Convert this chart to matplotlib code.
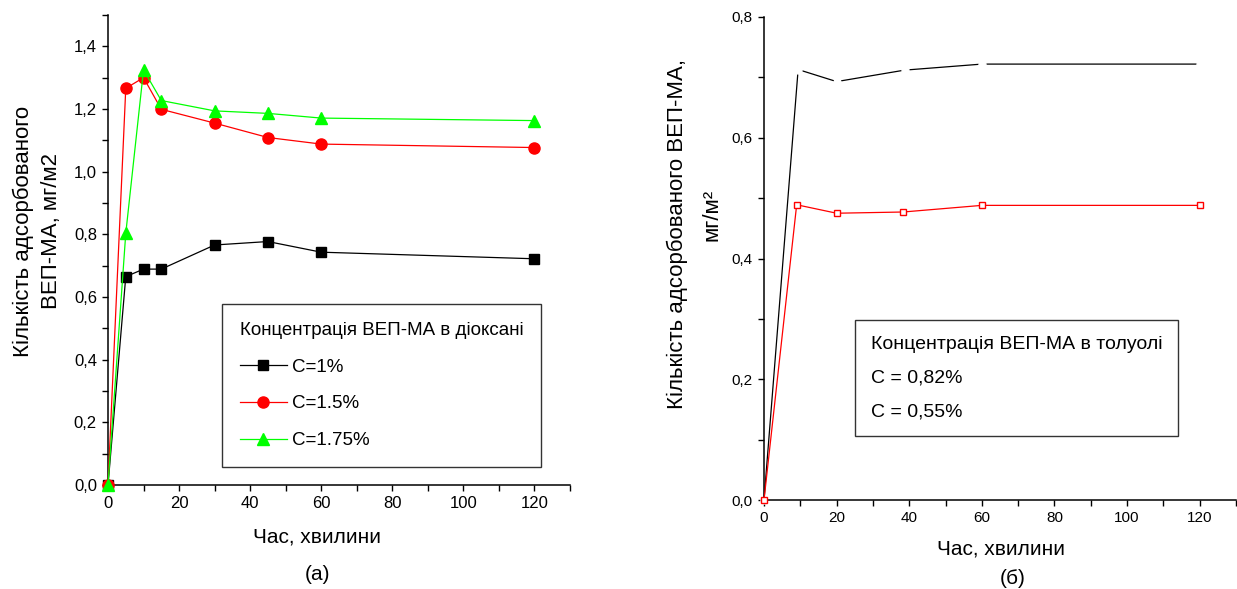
import matplotlib
matplotlib.use("Agg")
import matplotlib.pyplot as plt
from matplotlib.lines import Line2D
from matplotlib.ticker import MultipleLocator, FuncFormatter

plt.rcParams['font.family'] = ['Liberation Sans', 'DejaVu Sans']

# (а) dioxane
t_a = [0, 5, 10, 15, 30, 45, 60, 120]
c1 = [0, 0.665, 0.689, 0.689, 0.766, 0.777, 0.743, 0.722]
c15 = [0, 1.266, 1.300, 1.199, 1.155, 1.109, 1.088, 1.077]
c175 = [0, 0.803, 1.325, 1.227, 1.194, 1.186, 1.171, 1.163]
labels_a = ['C=1%', 'C=1.5%', 'C=1.75%']

# (б) toluene
t_b082 = [0, 9.4, 20, 38.7, 60, 120]
c082 = [0, 0.713, 0.693, 0.712, 0.722, 0.722]
t_b055 = [0, 9, 20, 38.3, 60, 120]
c055 = [0, 0.489, 0.475, 0.477, 0.488, 0.488]
labels_b = ['C = 0,82%', 'C = 0,55%']

comma = FuncFormatter(lambda v, p: ('%.1f' % v).replace('.', ','))

fig = plt.figure(figsize=(12.37, 5.89), dpi=100)
W, H = 1237, 589
ax1 = fig.add_axes([108 / W, 1 - 485 / H, (570 - 108) / W, (485 - 15) / H])
ax2 = fig.add_axes([764 / W, 1 - 500 / H, (1236 - 764) / W, (500 - 17) / H])


def style(ax, fs):
    for s in ['top', 'right']:
        ax.spines[s].set_visible(False)
    for s in ['left', 'bottom']:
        ax.spines[s].set_linewidth(1.1)
    ax.xaxis.set_major_locator(MultipleLocator(20))
    ax.xaxis.set_minor_locator(MultipleLocator(10))
    ax.yaxis.set_minor_locator(MultipleLocator(0.1))
    ax.yaxis.set_major_formatter(comma)
    ax.tick_params(which='major', direction='out', length=4.5, width=1.0, labelsize=fs)
    ax.tick_params(which='minor', direction='out', length=4, width=1.0)
    ax.set_xlim(0, 130)


# ---- (а)
ax1.plot(t_a, c1, color='black', lw=0.9, marker='s', ms=7, label=labels_a[0], clip_on=False, zorder=3)
ax1.plot(t_a, c15, color='red', lw=0.9, marker='o', ms=8, label=labels_a[1], clip_on=False, zorder=3)
ax1.plot(t_a, c175, color='#00ff00', lw=0.9, marker='^', ms=8.5, label=labels_a[2], clip_on=False, zorder=3)
style(ax1, 12)
ax1.set_ylim(0, 1.5)
ax1.set_yticks([0, 0.2, 0.4, 0.6, 0.8, 1.0, 1.2, 1.4])
leg = ax1.legend(title='Концентрація ВЕП-МА в діоксані', loc='upper left',
                 bbox_to_anchor=((222 - 108) / 462, (485 - 304) / 470),
                 fontsize=13.5, title_fontsize=13.5, frameon=True, fancybox=False,
                 edgecolor='black', handlelength=2.5, handletextpad=0.3,
                 labelspacing=1.05, borderpad=0.95, alignment='left', borderaxespad=0)
leg.get_frame().set_linewidth(1.0)

# ---- (б)
ax2.plot(t_b082, c082, color='black', lw=0.9, marker='o', ms=5, mfc='white', mec='white',
         clip_on=False, zorder=2)
ax2.plot(t_b055, c055, color='red', lw=0.9, marker='s', ms=5, mfc='white', mec='red',
         mew=1.0, clip_on=False, zorder=3)
style(ax2, 11)
ax2.set_ylim(0, 0.8)
ax2.set_yticks([0, 0.2, 0.4, 0.6, 0.8])
blank = [Line2D([], [], linestyle='none') for _ in labels_b]
leg2 = ax2.legend(blank, labels_b, title='Концентрація ВЕП-МА в толуолі', loc='upper left',
                  bbox_to_anchor=((855 - 764) / 472, (500 - 320) / 483),
                  fontsize=14, title_fontsize=14, frameon=True, fancybox=False,
                  edgecolor='black', handlelength=0, handletextpad=0,
                  labelspacing=0.85, borderpad=0.8, alignment='left', borderaxespad=0)
leg2.get_frame().set_linewidth(1.0)

# labels
fig.text(37 / W, 1 - 231 / H, 'Кількість адсорбованого\nВЕП-МА, мг/м2', rotation=90,
         ha='center', va='center', fontsize=16, multialignment='center', linespacing=1.45)
fig.text(317 / W, 1 - 537 / H, 'Час, хвилини', ha='center', va='center', fontsize=15)
fig.text(317 / W, 1 - 575 / H, '(а)', ha='center', va='center', fontsize=15)

fig.text(677 / W, 1 - 234 / H, 'Кількість адсорбованого ВЕП-МА,', rotation=90,
         ha='center', va='center', fontsize=16)
fig.text(712 / W, 1 - 215 / H, 'мг/м²', rotation=90, ha='center', va='center', fontsize=16)
fig.text(1001 / W, 1 - 549 / H, 'Час, хвилини', ha='center', va='center', fontsize=15)
fig.text(1013 / W, 1 - 578 / H, '(б)', ha='center', va='center', fontsize=15)

fig.savefig('out.png', dpi=100)
